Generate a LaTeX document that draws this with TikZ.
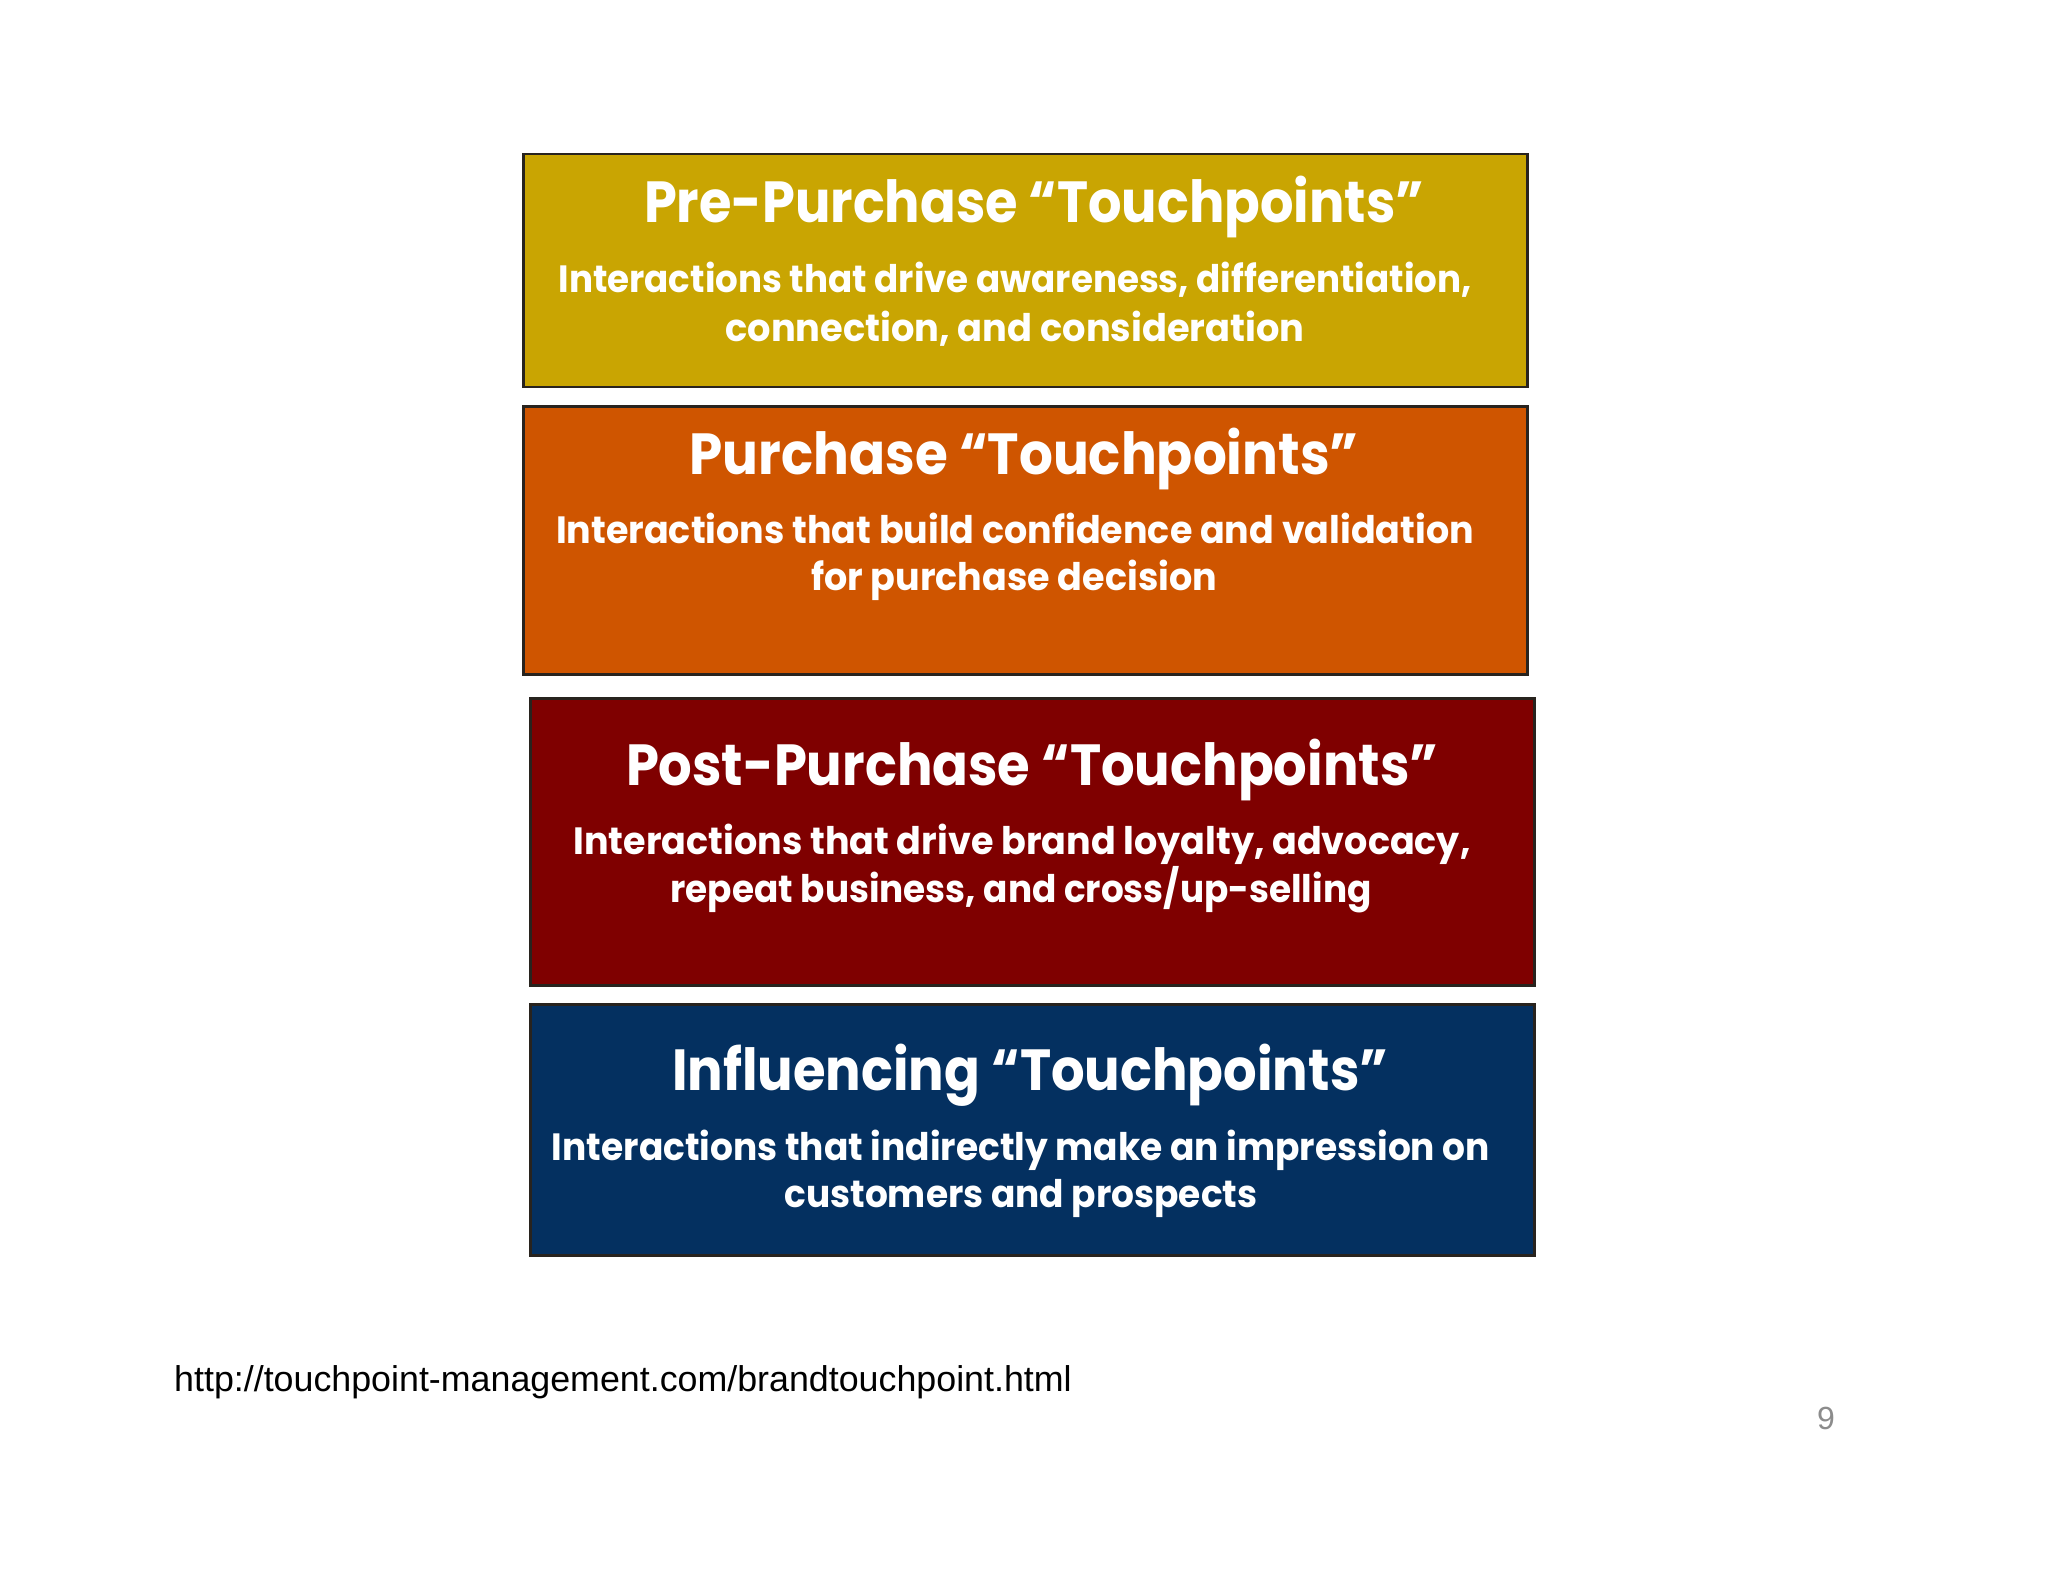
\documentclass[tikz,border=0pt]{standalone}
\usepackage{fontspec}
\usepackage{graphicx}
\setmainfont{Liberation Sans}
\newfontfamily\pop{Poppins}
\definecolor{cgold}{RGB}{201,165,2}
\definecolor{corange}{RGB}{207,85,0}
\definecolor{cred}{RGB}{127,0,0}
\definecolor{cnavy}{RGB}{4,48,96}
\definecolor{cedge}{RGB}{40,35,30}
\newcommand{\fitw}[2]{\resizebox{#1pt}{\height}{#2}}
\begin{document}
\begin{tikzpicture}[x=1pt,y=-1pt,
  tpbox/.style={draw=cedge, line width=2.5pt, rectangle, inner sep=0pt, anchor=north west},
  ttl/.style={text=white, anchor=base, inner sep=0pt, font=\pop\bfseries\fontsize{58}{60}\selectfont},
  sub/.style={text=white, anchor=base, inner sep=0pt, font=\pop\bfseries\fontsize{38}{46}\selectfont}]
\useasboundingbox[fill=white] (0,0) rectangle (2048,1582);
% boxes
\node[tpbox, fill=cgold, minimum width=1004pt, minimum height=233pt] (b1) at (522,152.5) {};
\node[tpbox, fill=corange, minimum width=1004pt, minimum height=268pt] (b2) at (522,405) {};
\node[tpbox, fill=cred, minimum width=1004pt, minimum height=287pt] (b3) at (529,697) {};
\node[tpbox, fill=cnavy, minimum width=1004pt, minimum height=251pt] (b4) at (529,1003) {};
% box 1
\node[ttl] (t1) at (1034,222) {\fitw{780}{Pre-Purchase “Touchpoints”}};
\node[sub] (s1a) at (1015,292.5) {\fitw{913}{Interactions that drive awareness, differentiation,}};
\node[sub] (s1b) at (1015,341) {\fitw{579}{connection, and consideration}};
% box 2
\node[ttl] (t2) at (1024,474) {\fitw{669}{Purchase “Touchpoints”}};
\node[sub] (s2a) at (1015,543) {\fitw{918}{Interactions that build confidence and validation}};
\node[sub] (s2b) at (1014,590) {\fitw{406}{for purchase decision}};
% box 3
\node[ttl] (t3) at (1032,785) {\fitw{812}{Post-Purchase “Touchpoints”}};
\node[sub] (s3a) at (1022,854) {\fitw{897}{Interactions that drive brand loyalty, advocacy,}};
\node[sub] (s3b) at (1021,902) {\fitw{701}{repeat business, and cross/up-selling}};
% box 4
\node[ttl] (t4) at (1030,1090) {\fitw{716}{Influencing “Touchpoints”}};
\node[sub] (s4a) at (1021,1160) {\fitw{938}{Interactions that indirectly make an impression on}};
\node[sub] (s4b) at (1021,1207) {\fitw{473}{customers and prospects}};
% footer
\node[anchor=base west, inner sep=0pt, font=\fontsize{35.8}{40}\selectfont] (url) at (174,1391) {http://touchpoint-management.com/brandtouchpoint.html};
\node[anchor=base, inner sep=0pt, text=black!45, font=\fontsize{32}{36}\selectfont] (pg) at (1826,1429) {9};
\end{tikzpicture}
\end{document}
